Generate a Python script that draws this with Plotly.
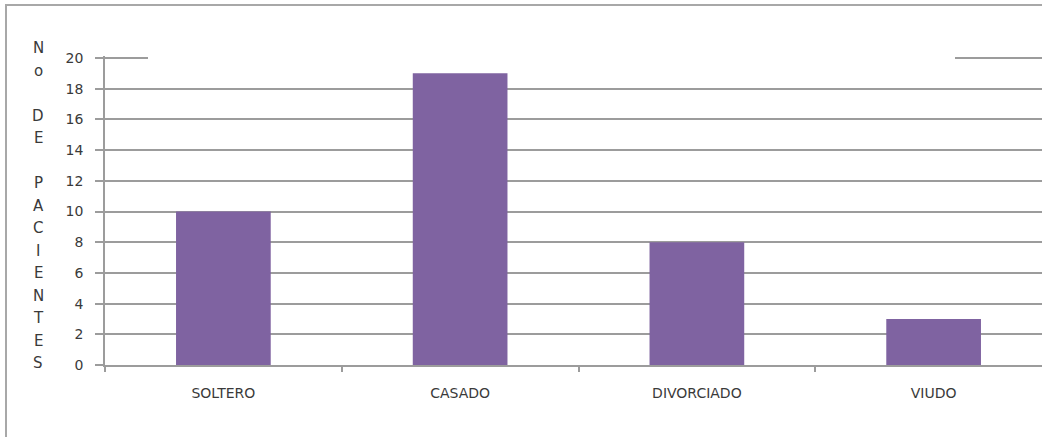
import plotly.graph_objects as go

# Patients by marital status
categorias = ["SOLTERO", "CASADO", "DIVORCIADO", "VIUDO"]
pacientes = [10, 19, 8, 3]
y_ticks = [0, 2, 4, 6, 8, 10, 12, 14, 16, 18, 20]
# Vertical axis title, one letter per line (blank entries are gaps)
titulo_y = ["N", "o", "", "D", "E", "", "P", "A", "C", "I", "E", "N", "T", "E", "S"]

W, H = 1042, 437
M_L, M_R, M_T, M_B = 105, 0, 56, 72
plot_w = W - M_L - M_R
plot_h = H - M_T - M_B
y_top = 20 * plot_h / (plot_h - 2)   # a little headroom so the 20 gridline is drawn

fig = go.Figure(
    go.Bar(
        x=categorias,
        y=pacientes,
        marker=dict(color="#7F63A1", line=dict(width=0)),
        hoverinfo="x+y",
    )
)

grid_col = "#9c9c9c"
text_col = "#3a3a3a"
font_family = "DejaVu Sans"

fig.update_layout(
    width=W,
    height=H,
    margin=dict(l=M_L, r=M_R, t=M_T, b=M_B),
    paper_bgcolor="white",
    plot_bgcolor="white",
    bargap=0.6,
    showlegend=False,
    font=dict(family=font_family, color=text_col),
)

fig.update_xaxes(
    type="category",
    range=[-0.5, -0.5 + 4 * plot_w / (1052 - M_L)],
    showline=True,
    linecolor=grid_col,
    linewidth=1.5,
    ticks="outside",
    tickson="boundaries",
    ticklen=5,
    tickcolor=grid_col,
    tickwidth=1.5,
    tickfont=dict(size=14, color=text_col, family=font_family),
    ticklabelstandoff=14,
    showgrid=False,
    zeroline=False,
)

fig.update_yaxes(
    range=[0, y_top],
    tickvals=y_ticks,
    showline=True,
    linecolor=grid_col,
    linewidth=1.5,
    ticks="outside",
    ticklen=8,
    tickcolor=grid_col,
    tickwidth=1.5,
    tickfont=dict(size=14, color=text_col, family=font_family),
    ticklabelstandoff=9,
    showgrid=True,
    gridcolor=grid_col,
    gridwidth=1.5,
    zeroline=False,
)

shapes = []
# Gap in the top gridline
shapes.append(dict(
    type="rect", xref="paper", yref="y",
    x0=(148 - M_L) / plot_w, x1=(955 - M_L) / plot_w,
    y0=19.8, y1=y_top,
    fillcolor="white", line=dict(width=0), layer="above",
))
# Chart frame
shapes.append(dict(
    type="rect", xref="paper", yref="paper",
    x0=(6 - M_L) / plot_w, x1=(1060 - M_L) / plot_w,
    y0=-(460 - (H - M_B)) / plot_h, y1=((H - M_B) - 5) / plot_h,
    fillcolor="rgba(0,0,0,0)", line=dict(color="#a8a8a8", width=2), layer="below",
))
fig.update_layout(shapes=shapes)

# Stacked vertical axis title
y_first, step = 48, 22.5
for i, ch in enumerate(titulo_y):
    if not ch:
        continue
    y_px = y_first + i * step
    fig.add_annotation(
        text=ch, xref="paper", yref="paper",
        x=(38 - M_L) / plot_w, y=((H - M_B) - y_px) / plot_h,
        xanchor="center", yanchor="middle", showarrow=False,
        font=dict(size=15, color=text_col, family=font_family),
    )

fig.write_html("out.html")
